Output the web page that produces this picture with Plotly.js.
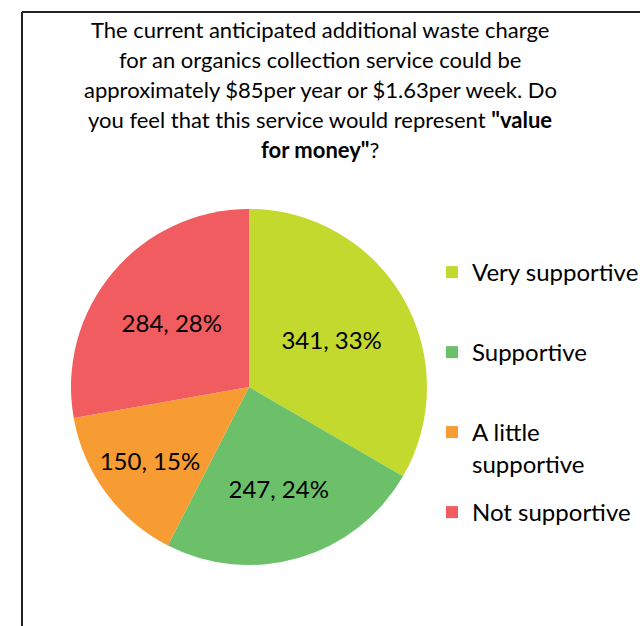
<!DOCTYPE html>
<html>
<head>
<meta charset="utf-8">
<script src="https://cdn.plot.ly/plotly-3.0.1.min.js"></script>
<style>html,body{margin:0;padding:0;background:#fff;}#chart{width:640px;height:626px;}</style>
</head>
<body>
<div id="chart"></div>
<script>
var categories = ["Very supportive", "Supportive", "A little supportive", "Not supportive"];
var legendLines = [["Very supportive"], ["Supportive"], ["A little", "supportive"], ["Not supportive"]];
var counts = [341, 247, 150, 284];
var colors = ["#c4d92e", "#6cc06a", "#f79c33", "#f05c5f"];
var titleLines = [
  "The current anticipated additional waste charge",
  "for an organics collection service could be",
  "approximately $85per year or $1.63per week. Do",
  "you feel that this service would represent <b>\"value</b>",
  "<b>for money\"</b>?"
];

var W = 640, H = 626;
var FONT = "Lato, 'Open Sans', sans-serif";

// legend labels: real text lines, padded to two lines so the entries are evenly spaced
var legendLabels = legendLines.map(function (lines) {
  var out = lines.slice();
  while (out.length < 2) out.push("&nbsp;");
  return out.join("<br>");
});

var pie = {
  type: "pie",
  labels: legendLabels,
  values: counts,
  customdata: categories,
  sort: false,
  direction: "clockwise",
  rotation: 0,
  marker: {colors: colors, line: {width: 0}},
  texttemplate: "%{value}, %{percent:.0%}",
  textposition: "inside",
  insidetextorientation: "horizontal",
  insidetextfont: {family: FONT, size: 24, color: "#000"},
  hovertemplate: "%{customdata}: %{value}<extra></extra>",
  domain: {x: [71 / W, 427 / W], y: [1 - 565 / H, 1 - 209 / H]}
};

// empty helper entry (last, invisible) so that every slice gets its own legend group
var spacer = {
  type: "scatter", x: [null], y: [null], mode: "markers",
  name: " ", legendgroup: "spacer", showlegend: true,
  marker: {color: "rgba(0,0,0,0)", size: 1},
  hoverinfo: "skip"
};

var annotations = titleLines.map(function (t, i) {
  return {
    text: t, xref: "paper", yref: "paper",
    x: 320 / W, y: 1 - (30 + i * 29.8) / H,
    xanchor: "center", yanchor: "middle", showarrow: false,
    font: {family: FONT, size: 22, color: "#000"}
  };
});

var layout = {
  width: W, height: H,
  margin: {l: 0, r: 0, t: 0, b: 0, autoexpand: false},
  paper_bgcolor: "#fff",
  plot_bgcolor: "rgba(0,0,0,0)",
  xaxis: {visible: false},
  yaxis: {visible: false},
  showlegend: true,
  legend: {
    x: 432 / W, y: 1 - 250 / H, xanchor: "left", yanchor: "top",
    valign: "top",
    traceorder: "grouped",
    tracegroupgap: 14.6,
    font: {family: FONT, size: 24, color: "#000"},
    itemwidth: 30, itemsizing: "constant",
    bgcolor: "rgba(0,0,0,0)"
  },
  annotations: annotations,
  shapes: [
    {type: "line", xref: "paper", yref: "paper", x0: 22 / W, x1: 22 / W, y0: 0, y1: 1 - 12 / H, line: {color: "#222", width: 2}},
    {type: "line", xref: "paper", yref: "paper", x0: 22 / W, x1: 1, y0: 1 - 12 / H, y1: 1 - 12 / H, line: {color: "#222", width: 2}}
  ]
};

Plotly.newPlot("chart", [pie, spacer], layout, {displayModeBar: false, staticPlot: true});
</script>
</body>
</html>
